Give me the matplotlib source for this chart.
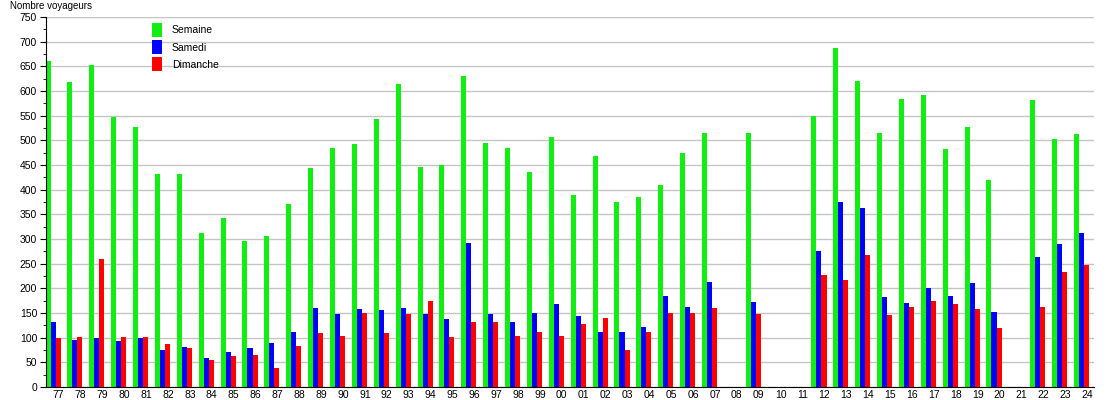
import numpy as np
import matplotlib
matplotlib.use('Agg')
import matplotlib.pyplot as plt
from matplotlib.ticker import MultipleLocator

plt.rcParams['font.family'] = ['Liberation Sans', 'DejaVu Sans']

years = ['77', '78', '79', '80', '81', '82', '83', '84', '85', '86', '87', '88',
         '89', '90', '91', '92', '93', '94', '95', '96', '97', '98', '99', '00',
         '01', '02', '03', '04', '05', '06', '07', '08', '09', '10', '11', '12',
         '13', '14', '15', '16', '17', '18', '19', '20', '21', '22', '23', '24']

semaine = [660, 618, 652, 547, 527, 432, 432, 313, 343, 295, 306, 371,
           443, 484, 492, 543, 614, 446, 451, 630, 494, 484, 436, 506,
           389, 468, 375, 385, 409, 474, 514, 0, 514, 0, 0, 549,
           687, 620, 514, 583, 591, 482, 527, 419, 0, 581, 502, 512]

samedi = [131, 96, 100, 94, 100, 74, 82, 59, 71, 80, 90, 112,
          161, 147, 159, 157, 161, 147, 137, 292, 147, 132, 151, 169,
          143, 112, 112, 122, 185, 163, 212, 0, 173, 0, 0, 276,
          374, 362, 183, 171, 200, 185, 210, 153, 0, 263, 290, 313]

dimanche = [99, 102, 259, 102, 102, 88, 80, 55, 63, 65, 39, 84,
            110, 104, 149, 110, 147, 175, 102, 132, 132, 104, 112, 104,
            128, 139, 75, 112, 149, 151, 161, 0, 147, 0, 0, 228,
            216, 267, 145, 163, 175, 169, 159, 120, 0, 163, 234, 247]

fig = plt.figure(figsize=(11.1, 4.0), dpi=100)
ax = fig.add_axes([0.041, 0.0325, 0.9446, 0.925])

x = np.arange(len(years))
w = 0.23
ax.bar(x - w, semaine, w, color='#11ee11', label='Semaine', zorder=2)
ax.bar(x, samedi, w, color='#0000ff', label='Samedi', zorder=2)
ax.bar(x + w, dimanche, w, color='#ff0000', label='Dimanche', zorder=2)

ax.set_xlim(-0.345, 47.57)
ax.set_ylim(0, 750)
ax.yaxis.set_major_locator(MultipleLocator(50))
ax.yaxis.set_minor_locator(MultipleLocator(25))
ax.set_xticks(x + 0.25)
ax.set_xticklabels(years)
ax.tick_params(axis='x', length=0, pad=2, labelsize=7.5)
ax.tick_params(axis='y', which='major', length=4, width=0.8, pad=2, labelsize=7.5)
ax.tick_params(axis='y', which='minor', length=2, width=0.6)
ax.grid(axis='y', which='major', color='#c4c4c4', linewidth=1, zorder=0)
ax.set_axisbelow(True)

for s in ['top', 'right']:
    ax.spines[s].set_visible(False)
ax.spines['left'].set_color('black')
ax.spines['bottom'].set_color('black')

fig.text(0.009, 0.985, 'Nombre voyageurs', fontsize=7, va='center', ha='left')

ax.legend(loc='upper left', bbox_to_anchor=(0.098, 0.995), frameon=False,
          fontsize=7.5, handlelength=0.95, handleheight=1.7, handletextpad=0.9,
          labelspacing=0.3, borderaxespad=0)

fig.savefig('out.png', dpi=100)
